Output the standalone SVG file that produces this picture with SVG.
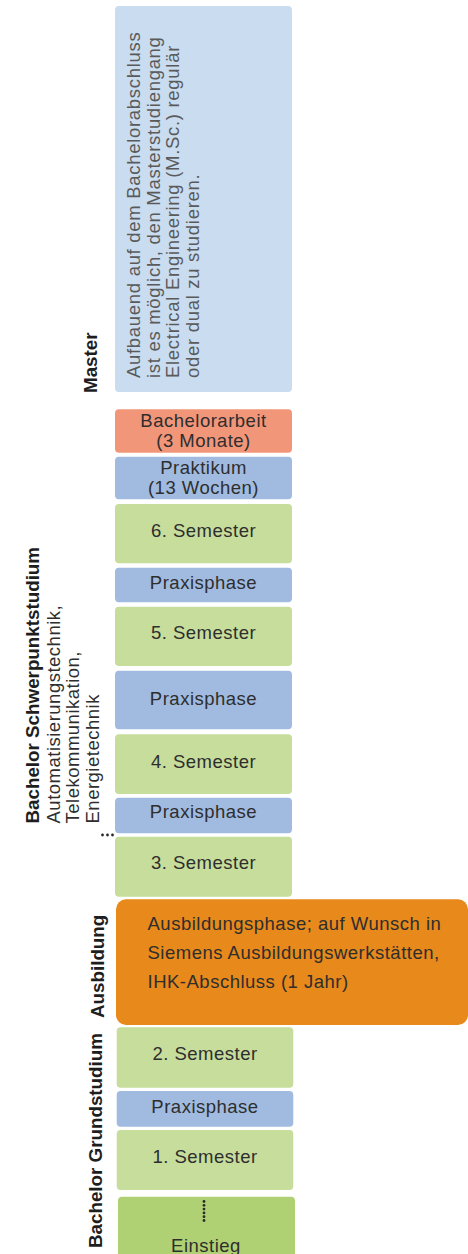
<svg xmlns="http://www.w3.org/2000/svg" width="468" height="1254" viewBox="0 0 468 1254">
<style>
.t{font-family:"Liberation Sans",Arial,sans-serif;font-size:18.5px;fill:#2e2e2e;letter-spacing:0.5px}
.c{text-anchor:middle}
.m{fill:#5a5a5a;letter-spacing:0.7px}
.b{font-family:"Liberation Sans",Arial,sans-serif;font-size:18.8px;font-weight:bold;fill:#1e1e1e}
.g{fill:#c6dd9c}
.p{fill:#a1bbe0}
.dot{fill:#2a2a2a}
</style>
<rect width="468" height="1254" fill="#ffffff"/>

<g id="label-master"><text class="b" transform="translate(96.5,393) rotate(-90)">Master</text></g>
<g id="label-schwerpunkt">
<text class="b" transform="translate(38.5,823.5) rotate(-90)">Bachelor Schwerpunktstudium</text>
<text class="t" transform="translate(59.5,823.5) rotate(-90)">Automatisierungstechnik,</text>
<text class="t" transform="translate(79,823.5) rotate(-90)">Telekommunikation,</text>
<text class="t" transform="translate(98.5,823.5) rotate(-90)">Energietechnik</text>
</g>
<g id="label-ausbildung"><text class="b" transform="translate(103.5,1018) rotate(-90)">Ausbildung</text></g>
<g id="label-grundstudium"><text class="b" transform="translate(101.5,1248) rotate(-90)">Bachelor Grundstudium</text></g>

<g id="master">
<rect x="115" y="6" width="177" height="386" rx="4" fill="#c9dcf0"/>
<text class="t m" transform="translate(140,378) rotate(-90)">Aufbauend auf dem Bachelorabschluss</text>
<text class="t m" transform="translate(159.5,378) rotate(-90)">ist es möglich, den Masterstudiengang</text>
<text class="t m" transform="translate(179,378) rotate(-90)">Electrical Engineering (M.Sc.) regulär</text>
<text class="t m" transform="translate(198.5,378) rotate(-90)">oder dual zu studieren.</text>
</g>

<g id="bachelorarbeit">
<rect x="115" y="409.3" width="177" height="43.4" rx="4" fill="#f2967a"/>
<text class="t c" x="203.5" y="426.7">Bachelorarbeit</text>
<text class="t c" x="203.5" y="446.7">(3 Monate)</text>
</g>
<g id="praktikum">
<rect class="p" x="115" y="456.7" width="177" height="42.6" rx="4"/>
<text class="t c" x="203.5" y="474.3">Praktikum</text>
<text class="t c" x="203.5" y="494.3">(13 Wochen)</text>
</g>
<g id="semester6">
<rect class="g" x="115" y="504" width="177" height="59.3" rx="4"/>
<text class="t c" x="203.5" y="537.3">6. Semester</text>
</g>
<g id="praxis5">
<rect class="p" x="115" y="567.7" width="177" height="34.6" rx="4"/>
<text class="t c" x="203.5" y="589.3">Praxisphase</text>
</g>
<g id="semester5">
<rect class="g" x="115" y="606.7" width="177" height="59.3" rx="4"/>
<text class="t c" x="203.5" y="638.7">5. Semester</text>
</g>
<g id="praxis4">
<rect class="p" x="115" y="670.7" width="177" height="58.6" rx="4"/>
<text class="t c" x="203.5" y="705">Praxisphase</text>
</g>
<g id="semester4">
<rect class="g" x="115" y="734.3" width="177" height="59.7" rx="4"/>
<text class="t c" x="203.5" y="768.3">4. Semester</text>
</g>
<g id="praxis3">
<rect class="p" x="115" y="797.7" width="177" height="35.6" rx="4"/>
<text class="t c" x="203.5" y="818.3">Praxisphase</text>
</g>
<g id="semester3">
<rect class="g" x="115" y="836.7" width="177" height="60" rx="4"/>
<text class="t c" x="203.5" y="869">3. Semester</text>
</g>
<g id="ausbildung">
<rect x="116" y="899.3" width="352" height="125.7" rx="10" fill="#e8891c"/>
<text class="t" x="147.5" y="930">Ausbildungsphase; auf Wunsch in</text>
<text class="t" x="147.5" y="959.3">Siemens Ausbildungswerkstätten,</text>
<text class="t" x="147.5" y="988.3">IHK-Abschluss (1 Jahr)</text>
</g>
<g id="semester2">
<rect class="g" x="116.7" y="1027.3" width="176.6" height="60.4" rx="4"/>
<text class="t c" x="205" y="1060">2. Semester</text>
</g>
<g id="praxis1">
<rect class="p" x="116.7" y="1091" width="176.6" height="35.7" rx="4"/>
<text class="t c" x="205" y="1113.3">Praxisphase</text>
</g>
<g id="semester1">
<rect class="g" x="116.7" y="1130" width="176.6" height="60" rx="4"/>
<text class="t c" x="205" y="1162.7">1. Semester</text>
</g>
<g id="einstieg">
<rect x="118" y="1196.7" width="177" height="70" rx="4" fill="#b0d173"/>
<text class="t c" x="206" y="1251.5">Einstieg</text>
</g>

<g id="connectors">
<circle class="dot" cx="204" cy="1201.5" r="1.4"/>
<circle class="dot" cx="204" cy="1205.3" r="1.4"/>
<circle class="dot" cx="204" cy="1209.1" r="1.4"/>
<circle class="dot" cx="204" cy="1212.9" r="1.4"/>
<circle class="dot" cx="204" cy="1216.7" r="1.4"/>
<circle class="dot" cx="204" cy="1220.5" r="1.4"/>
<circle class="dot" cx="102.5" cy="835" r="1.4"/>
<circle class="dot" cx="107.5" cy="835" r="1.4"/>
<circle class="dot" cx="112.5" cy="835" r="1.4"/>
</g>
</svg>
